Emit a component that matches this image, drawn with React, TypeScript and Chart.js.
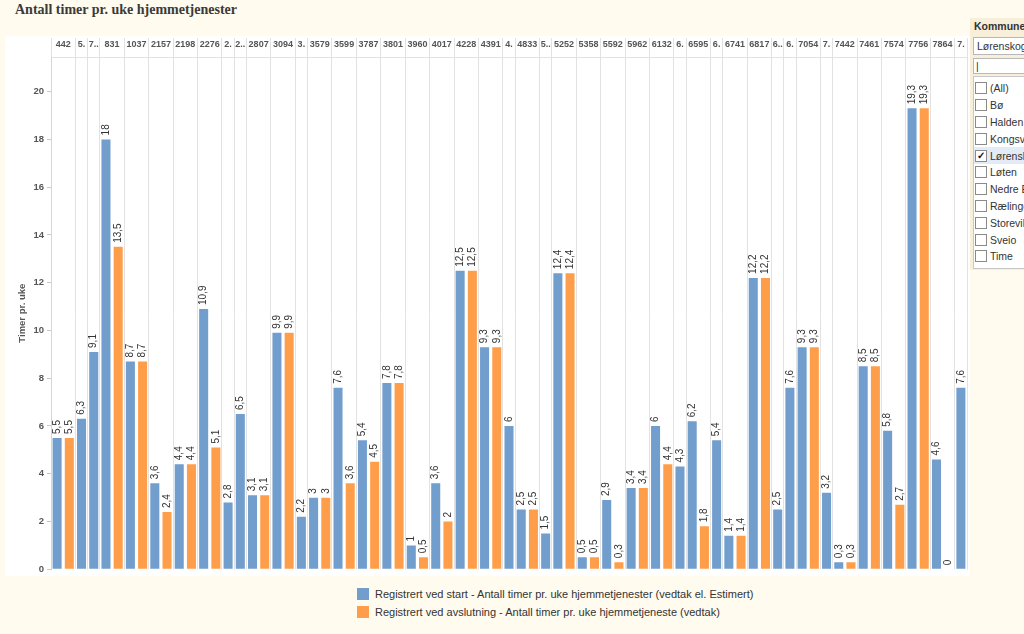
import React, { useEffect, useRef } from 'react';
import { Chart, registerables } from 'chart.js';

Chart.register(...registerables);

const chartTitle = 'Antall timer pr. uke hjemmetjenester';
const yAxisTitle = 'Timer pr. uke';

const columnLabels = ['442', '5.', '7..', '831', '1037', '2157', '2198', '2276', '2.', '2..', '2807', '3094', '3.', '3579', '3599', '3787', '3801', '3960', '4017', '4228', '4391', '4.', '4833', '5..', '5252', '5358', '5592', '5962', '6132', '6.', '6595', '6.', '6741', '6817', '6..', '6.', '7054', '7.', '7442', '7461', '7574', '7756', '7864', '7.'];

const startValues: number[] = [5.5, 6.3, 9.1, 18, 8.7, 3.6, 4.4, 10.9, 2.8, 6.5, 3.1, 9.9, 2.2, 3, 7.6, 5.4, 7.8, 1, 3.6, 12.5, 9.3, 6, 2.5, 1.5, 12.4, 0.5, 2.9, 3.4, 6, 4.3, 6.2, 5.4, 1.4, 12.2, 2.5, 7.6, 9.3, 3.2, 0.3, 8.5, 5.8, 19.3, 4.6, 7.6];

const endValues: (number | null)[] = [5.5, null, null, 13.5, 8.7, 2.4, 4.4, 5.1, null, null, 3.1, 9.9, null, 3, 3.6, 4.5, 7.8, 0.5, 2, 12.5, 9.3, null, 2.5, null, 12.4, 0.5, 0.3, 3.4, 4.4, null, 1.8, null, 1.4, 12.2, null, null, 9.3, null, 0.3, 8.5, 2.7, 19.3, 0, null];

const seriesLabels = [
  'Registrert ved start - Antall timer pr. uke hjemmetjenester (vedtak el. Estimert)',
  'Registrert ved avslutning - Antall timer pr. uke hjemmetjeneste (vedtak)',
];
const seriesColors = ['#729ece', '#ff9e4a'];

const yMin = 0;
const yMax = 21.45;
const yStep = 2;

const filterTitle = 'Kommune';
const filterSelected = 'Lørenskog';
const filterOptions = ['(All)', 'Bø', 'Halden', 'Kongsvinger', 'Lørenskog', 'Løten', 'Nedre Eiker', 'Rælingen', 'Storevik', 'Sveio', 'Time'];

// Build slot layout from the data (one slot per bar)
const slotStart: number[] = [];
let slotCursor = 0;
columnLabels.forEach((_, i) => {
  slotStart.push(slotCursor);
  slotCursor += endValues[i] === null ? 1 : 2;
});
const slotCount = slotCursor;

const startData = startValues.map((v, i) => ({ x: slotStart[i], y: v }));
const endData = endValues.flatMap((v, i) => (v === null ? [] : [{ x: slotStart[i] + 1, y: v }]));

type HeaderTick = { value: number; boundary: boolean; label: string };
const headerTicks: HeaderTick[] = [];
columnLabels.forEach((lab, i) => {
  const w = endValues[i] === null ? 1 : 2;
  headerTicks.push({ value: slotStart[i] - 0.5, boundary: true, label: '' });
  headerTicks.push({ value: slotStart[i] - 0.5 + w / 2, boundary: false, label: lab });
});
headerTicks.push({ value: slotCount - 0.5, boundary: true, label: '' });

const FONT = '"Liberation Sans", Arial, sans-serif';

const barLabelPlugin = {
  id: 'barLabels',
  afterDatasetsDraw(chart: any) {
    const ctx = chart.ctx;
    ctx.save();
    ctx.font = `10px ${FONT}`;
    ctx.fillStyle = '#333';
    ctx.textAlign = 'left';
    ctx.textBaseline = 'middle';
    chart.data.datasets.forEach((ds: any, di: number) => {
      const meta = chart.getDatasetMeta(di);
      meta.data.forEach((el: any, i: number) => {
        const v = ds.data[i]?.y;
        if (v === null || v === undefined) return;
        ctx.save();
        ctx.translate(el.x, el.y - 4);
        ctx.rotate(-Math.PI / 2);
        ctx.fillText(String(v).replace('.', ','), 0, 0);
        ctx.restore();
      });
    });
    ctx.restore();
  },
};

function BarChart() {
  const ref = useRef<HTMLCanvasElement | null>(null);
  useEffect(() => {
    if (!ref.current) return;
    const gridColor = (c: any) => (headerTicks[c.index] && headerTicks[c.index].boundary ? '#e2e2e2' : 'rgba(0,0,0,0)');
    const chart = new Chart(ref.current, {
      type: 'bar',
      data: {
        datasets: [
          { label: seriesLabels[0], data: startData as any, backgroundColor: seriesColors[0], xAxisID: 'x', yAxisID: 'y' },
          { label: seriesLabels[1], data: endData as any, backgroundColor: seriesColors[1], xAxisID: 'x', yAxisID: 'y' },
        ],
      },
      options: {
        responsive: false,
        animation: false,
        devicePixelRatio: 1,
        grouped: false,
        barPercentage: 0.74,
        categoryPercentage: 1,
        layout: { padding: { top: 0, right: 3, bottom: 0, left: 0 } },
        plugins: {
          legend: { display: false },
          tooltip: { enabled: false },
          title: { display: false },
        },
        scales: {
          x: {
            type: 'linear',
            display: false,
            offset: false,
            bounds: 'data',
            min: -0.5,
            max: slotCount - 0.5,
            grid: { offset: false },
            ticks: { stepSize: 10, includeBounds: false },
          },
          xh: {
            type: 'linear',
            position: 'top',
            offset: false,
            bounds: 'data',
            min: -0.5,
            max: slotCount - 0.5,
            afterBuildTicks: (scale: any) => {
              scale.ticks = headerTicks.map((t) => ({ value: t.value }));
            },
            afterFit: (scale: any) => {
              scale.height = 21;
            },
            ticks: {
              autoSkip: false,
              maxRotation: 0,
              minRotation: 0,
              padding: -12,
              color: '#555',
              font: { family: FONT, size: 9, weight: 'bold' },
              callback: (_v: any, index: number) => headerTicks[index].label,
            },
            grid: {
              offset: false,
              color: gridColor,
              tickColor: gridColor,
              drawTicks: true,
              tickLength: 19,
              lineWidth: 1,
            },
            border: { display: true, color: '#e2e2e2' },
          },
          y: {
            type: 'linear',
            bounds: 'data',
            min: yMin,
            max: yMax,
            afterFit: (scale: any) => {
              scale.width = 46;
            },
            ticks: {
              stepSize: yStep,
              includeBounds: false,
              color: '#555',
              padding: 3,
              font: { family: FONT, size: 9.5, weight: 'bold' },
            },
            grid: { drawOnChartArea: false, drawTicks: true, tickLength: 4, tickColor: '#c8c8c8' },
            border: { display: true, color: '#d6d6d6' },
            title: {
              display: true,
              text: yAxisTitle,
              color: '#555',
              font: { family: FONT, size: 9.5, weight: 'bold' },
              padding: { top: 11.5, bottom: 0 },
            },
          },
        },
      } as any,
      plugins: [barLabelPlugin],
    });
    return () => chart.destroy();
  }, []);
  return <canvas ref={ref} width={965} height={542} style={{ display: 'block' }} />;
}

export default function App() {
  return (
    <div style={{ position: 'fixed', left: 0, top: 0, width: 1024, height: 634, background: '#fffbef', overflow: 'hidden', fontFamily: FONT }}>
      <div style={{ position: 'absolute', left: 15, top: 0, height: 19, lineHeight: '19px', fontFamily: '"Liberation Serif", "Times New Roman", serif', fontWeight: 'bold', fontSize: 14, color: '#3a3a3a', whiteSpace: 'nowrap' }}>
        {chartTitle}
      </div>
      <div style={{ position: 'absolute', left: 5, top: 36, width: 965, height: 540, background: '#ffffff' }}>
        <BarChart />
      </div>
      <div style={{ position: 'absolute', left: 357, top: 585, fontSize: 11, color: '#333' }}>
        {seriesLabels.map((lab, i) => (
          <div key={lab} style={{ display: 'flex', alignItems: 'center', height: 18, whiteSpace: 'nowrap' }}>
            <span style={{ display: 'inline-block', flexShrink: 0, width: 12, height: 12, background: seriesColors[i], marginRight: 6 }} />
            <span>{lab}</span>
          </div>
        ))}
      </div>
      <div style={{ position: 'absolute', left: 970, top: 18, width: 60, height: 252, background: '#f7efd9', overflow: 'hidden', fontSize: 10.5, color: '#333' }}>
        <div style={{ height: 17, lineHeight: '17px', paddingLeft: 4, fontWeight: 'bold', whiteSpace: 'nowrap' }}>{filterTitle}</div>
        <div style={{ marginLeft: 3, marginTop: 2, height: 16, lineHeight: '16px', border: '1px solid #b8b8b8', background: '#fff', paddingLeft: 3, whiteSpace: 'nowrap' }}>{filterSelected}</div>
        <div style={{ marginLeft: 3, marginTop: 3, height: 14, lineHeight: '14px', border: '1px solid #b8b8b8', background: '#fff', paddingLeft: 2 }}>|</div>
        <div style={{ marginLeft: 3, marginTop: 2, border: '1px solid #c8c8c8', background: '#fff', paddingTop: 3, paddingBottom: 3 }}>
          {filterOptions.map((opt) => {
            const checked = opt === filterSelected;
            return (
              <div key={opt} style={{ display: 'flex', alignItems: 'center', height: 16.8, whiteSpace: 'nowrap', background: checked ? '#e3ebf6' : 'transparent' }}>
                <span style={{ display: 'inline-block', flexShrink: 0, width: 10, height: 10, border: '1px solid #8a8a8a', background: '#fff', marginLeft: 1, marginRight: 3, fontSize: 10, lineHeight: '10px', textAlign: 'center', fontWeight: 'bold', color: '#111' }}>{checked ? '✓' : ''}</span>
                <span>{opt}</span>
              </div>
            );
          })}
        </div>
      </div>
    </div>
  );
}
